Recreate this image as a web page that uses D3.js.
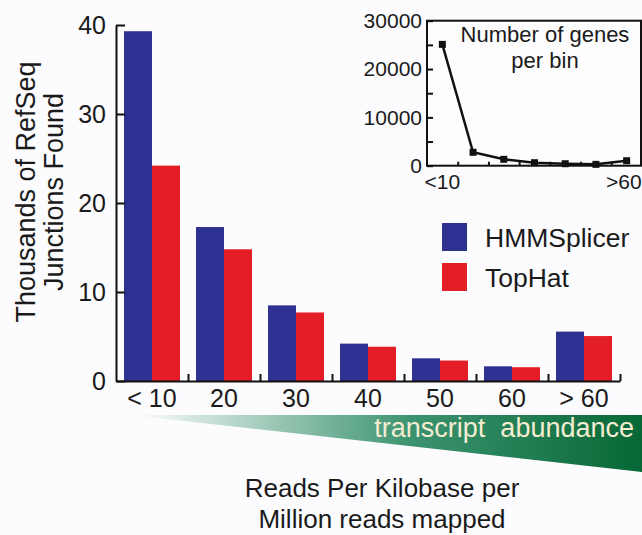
<!DOCTYPE html>
<html>
<head>
<meta charset="utf-8">
<script src="https://cdn.jsdelivr.net/npm/d3@7"></script>
<style>
  body { margin: 0; background: #fcfcfe; }
  svg { display: block; font-family: "Liberation Sans", Arial, sans-serif; }
  text { fill: #1a1a1a; }
</style>
</head>
<body>
<svg id="viz"></svg>
<script>
/* Data */

const bins = ["< 10", "20", "30", "40", "50", "60", "> 60"];
const hmmSplicer = [39.3, 17.3, 8.5, 4.2, 2.55, 1.65, 5.55];
const topHat = [24.2, 14.8, 7.7, 3.85, 2.3, 1.55, 5.05];
const seriesNames = ["HMMSplicer", "TopHat"];

const insetLabels = ["<10", "", "", "", "", "", ">60"];
const genesPerBin = [25100, 2770, 1320, 620, 410, 280, 1030];

/* Environment */

const width = 642;
const height = 535;

const svg = d3.select('#viz')
    .attr('width', width)
    .attr('height', height);

const blue = "#2e3192";
const red = "#e31e26";

/* Layers */

let gWedge = svg.append("g");
let gBars = svg.append("g");
let gXAxis = svg.append("g");
let gYAxis = svg.append("g");
let gInset = svg.append("g");
let gLegend = svg.append("g");

/* Scales */

let x = d3.scaleBand()
    .domain(bins)
    .range([116, 620]);

let xEdge = d3.scaleLinear()
    .domain([0, bins.length])
    .range([116, 620]);

let y = d3.scaleLinear()
    .domain([0, 40])
    .range([381, 25]);

let barPad = 8;
let barW = (x.bandwidth() - 2 * barPad) / 2;

/* Bars */

let rows = bins.map((b, i) => ({bin: b, values: [hmmSplicer[i], topHat[i]]}));

gBars.selectAll("g")
    .data(rows)
    .enter().append("g")
    .attr("transform", d => `translate(${x(d.bin) + barPad},0)`)
    .selectAll("rect")
    .data(d => d.values)
    .enter().append("rect")
    .attr("x", (d, i) => i * barW)
    .attr("y", d => y(d))
    .attr("width", barW)
    .attr("height", d => y(0) - y(d))
    .attr("fill", (d, i) => i === 0 ? blue : red);

/* Axis */

gYAxis
    .attr("transform", "translate(116,0)")
    .call(d3.axisLeft(y).tickValues([0, 10, 20, 30, 40]).tickSizeInner(-9).tickSizeOuter(0).tickPadding(10))
    .call(g => g.selectAll("line, path").attr("stroke", "#111").attr("stroke-width", 2))
    .call(g => g.selectAll("text").attr("font-size", 25).attr("font-family", null).attr("fill", "#1a1a1a"));

gXAxis
    .attr("transform", "translate(0,381)")
    .call(d3.axisBottom(xEdge).tickValues(d3.range(1, bins.length + 1)).tickSizeInner(-7).tickSizeOuter(0).tickFormat(""))
    .call(g => g.selectAll("line, path").attr("stroke", "#111").attr("stroke-width", 2));

svg.append("g")
    .attr("transform", "translate(0,381)")
    .call(d3.axisBottom(x).tickSize(0).tickPadding(8))
    .call(g => g.select(".domain").remove())
    .call(g => g.selectAll("text").attr("font-size", 25).attr("font-family", null).attr("fill", "#1a1a1a"));

/* Y title */

svg.append("text")
    .attr("transform", "rotate(-90)")
    .attr("x", -192)
    .attr("y", 35)
    .attr("text-anchor", "middle")
    .attr("font-size", 27)
    .text("Thousands of RefSeq");

svg.append("text")
    .attr("transform", "rotate(-90)")
    .attr("x", -192)
    .attr("y", 63)
    .attr("text-anchor", "middle")
    .attr("font-size", 27)
    .text("Junctions Found");

/* Abundance wedge */

const grad = svg.append("defs").append("linearGradient")
    .attr("id", "green")
    .attr("gradientUnits", "userSpaceOnUse")
    .attr("x1", 130).attr("x2", 642).attr("y1", 0).attr("y2", 0);
grad.append("stop").attr("offset", 0).attr("stop-color", "#ffffff");
grad.append("stop").attr("offset", 0.55).attr("stop-color", "#3c9370");
grad.append("stop").attr("offset", 1).attr("stop-color", "#076735");

gWedge.append("path")
    .attr("d", d3.line()([[130, 415], [642, 415], [642, 472]]) + "Z")
    .attr("fill", "url(#green)");

gWedge.append("text")
    .attr("x", 634)
    .attr("y", 437)
    .attr("text-anchor", "end")
    .attr("font-size", 27)
    .attr("xml:space", "preserve")
    .style("fill", "#f4edd2")
    .style("white-space", "pre")
    .text("transcript  abundance");

/* X title */

svg.append("text")
    .attr("x", 382)
    .attr("y", 497)
    .attr("text-anchor", "middle")
    .attr("font-size", 26)
    .text("Reads Per Kilobase per");

svg.append("text")
    .attr("x", 382)
    .attr("y", 528)
    .attr("text-anchor", "middle")
    .attr("font-size", 26)
    .text("Million reads mapped");

/* Legend */

const lg = gLegend.selectAll("g")
    .data(seriesNames)
    .enter().append("g")
    .attr("transform", (d, i) => `translate(442,${223 + i * 40})`);

lg.append("rect")
    .attr("width", 25)
    .attr("height", 28)
    .attr("fill", (d, i) => i === 0 ? blue : red);

lg.append("text")
    .attr("x", 43)
    .attr("y", 24)
    .attr("font-size", 26.5)
    .text(d => d);

/* Inset */

let ix = d3.scaleBand()
    .domain(d3.range(genesPerBin.length))
    .range([427, 642]);

let ixEdge = d3.scaleLinear()
    .domain([0, genesPerBin.length])
    .range([427, 642]);

let iy = d3.scaleLinear()
    .domain([0, 30000])
    .range([165.7, 20.7]);

gInset.append("rect")
    .attr("x", 427)
    .attr("y", iy(30000))
    .attr("width", 214)
    .attr("height", iy(0) - iy(30000))
    .attr("fill", "#fdfdfe")
    .attr("stroke", "#111")
    .attr("stroke-width", 2);

gInset.append("g")
    .attr("transform", "translate(427,0)")
    .call(d3.axisLeft(iy).tickValues(d3.range(0, 30001, 5000)).tickSizeInner(-6).tickSizeOuter(0).tickPadding(5)
      .tickFormat(d => d % 10000 === 0 ? d : ""))
    .call(g => g.select(".domain").remove())
    .call(g => g.selectAll("line").attr("stroke", "#111").attr("stroke-width", 2))
    .call(g => g.selectAll("text").attr("font-size", 21).attr("font-family", null).attr("fill", "#1a1a1a"));

gInset.append("g")
    .attr("transform", `translate(0,${iy(0)})`)
    .call(d3.axisBottom(ixEdge).tickValues(d3.range(1, genesPerBin.length)).tickSizeInner(-4).tickSizeOuter(0).tickFormat(""))
    .call(g => g.select(".domain").remove())
    .call(g => g.selectAll("line").attr("stroke", "#111").attr("stroke-width", 2));

gInset.append("g")
    .attr("transform", `translate(0,${iy(0)})`)
    .call(d3.axisBottom(ix).tickSize(0).tickPadding(8).tickFormat(i => insetLabels[i]))
    .call(g => g.select(".domain").remove())
    .call(g => g.selectAll("text").attr("font-size", 21).attr("font-family", null).attr("fill", "#1a1a1a"))
    .call(g => g.selectAll("text").filter(i => i === genesPerBin.length - 1)
      .attr("text-anchor", "end").attr("x", 15));

let line = d3.line()
    .x((d, i) => ix(i) + ix.bandwidth() / 2)
    .y(d => iy(d));

gInset.append("path")
    .datum(genesPerBin)
    .attr("d", line)
    .attr("fill", "none")
    .attr("stroke", "#111")
    .attr("stroke-width", 2.5);

gInset.selectAll("rect.pt")
    .data(genesPerBin)
    .enter().append("rect")
    .attr("class", "pt")
    .attr("x", (d, i) => ix(i) + ix.bandwidth() / 2 - 3.5)
    .attr("y", d => iy(d) - 3.5)
    .attr("width", 7)
    .attr("height", 7)
    .attr("fill", "#111");

gInset.append("text")
    .attr("x", 545)
    .attr("y", 42)
    .attr("text-anchor", "middle")
    .attr("font-size", 22)
    .text("Number of genes");

gInset.append("text")
    .attr("x", 545)
    .attr("y", 68)
    .attr("text-anchor", "middle")
    .attr("font-size", 22)
    .text("per bin");
</script>
</body>
</html>
